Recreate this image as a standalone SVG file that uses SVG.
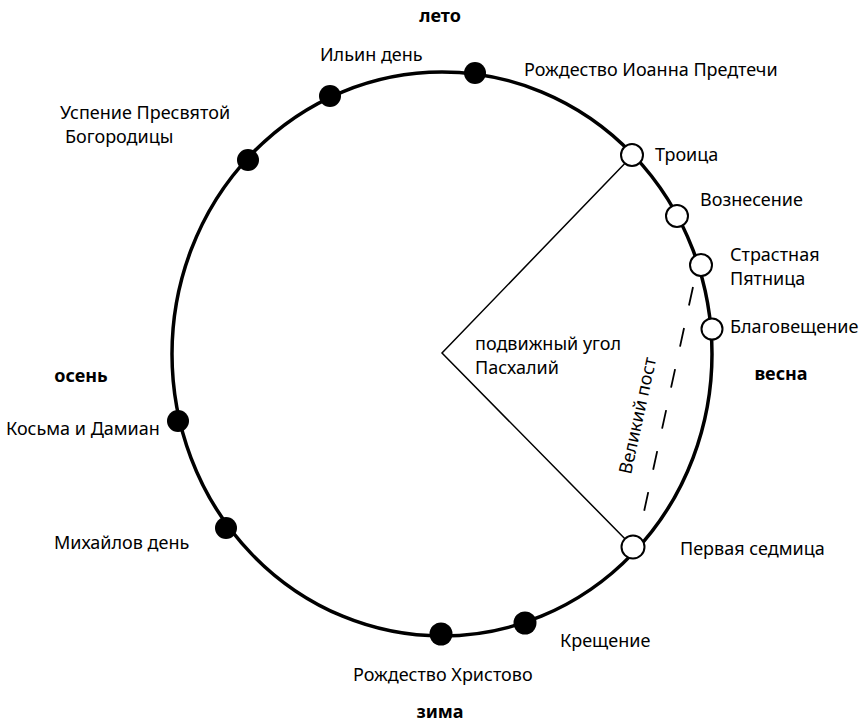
<svg xmlns="http://www.w3.org/2000/svg" width="867" height="727" viewBox="0 0 867 727">
  <style>
    .ring { fill: none; stroke: #000; stroke-width: 3.5; }
    .ray { fill: none; stroke: #000; stroke-width: 1.5; }
    .dash { fill: none; stroke: #000; stroke-width: 1.8; stroke-dasharray: 19 23; }
    .fixed { fill: #000; stroke: none; }
    .movable { fill: #fff; stroke: #000; stroke-width: 2; }
    .lbl { font-family: "Noto Sans", "Open Sans", "Liberation Sans", sans-serif; font-size: 18px; fill: #000; }
    .season { font-family: "Noto Sans", "Open Sans", "Liberation Sans", sans-serif; font-size: 18px; font-weight: bold; fill: #000; }
  </style>
  <rect width="867" height="727" fill="#fff"/>

  <!-- year circle -->
  <ellipse class="ring" cx="442" cy="354" rx="270" ry="282"/>

  <!-- connectors: Paschal angle and Great Lent -->
  <g id="connectors">
    <polyline class="ray" points="632,156 442,353 633,547"/>
    <line class="dash" x1="693" y1="287" x2="640" y2="530"/>
  </g>
  <text class="lbl" transform="translate(631,475) rotate(-77.7)">Великий пост</text>
  <text class="lbl" x="475" y="350">подвижный угол</text>
  <text class="lbl" x="475" y="374">Пасхалий</text>

  <!-- seasons -->
  <text class="season" x="440" y="22" text-anchor="middle">лето</text>
  <text class="season" x="81" y="382" text-anchor="middle">осень</text>
  <text class="season" x="781" y="380" text-anchor="middle">весна</text>
  <text class="season" x="440" y="718" text-anchor="middle">зима</text>

  <!-- fixed feasts -->
  <g id="rozhdestvo-ioanna">
    <circle class="fixed" cx="475" cy="73" r="11"/>
    <text class="lbl" x="524" y="76">Рождество Иоанна Предтечи</text>
  </g>
  <g id="ilin-den">
    <circle class="fixed" cx="330" cy="96" r="11"/>
    <text class="lbl" x="320" y="61">Ильин день</text>
  </g>
  <g id="uspenie">
    <circle class="fixed" cx="248" cy="160" r="11"/>
    <text class="lbl" x="60" y="119">Успение Пресвятой</text>
    <text class="lbl" x="65" y="143">Богородицы</text>
  </g>
  <g id="kosma-i-damian">
    <circle class="fixed" cx="178" cy="421" r="11"/>
    <text class="lbl" x="6" y="435">Косьма и Дамиан</text>
  </g>
  <g id="mikhailov-den">
    <circle class="fixed" cx="226" cy="528" r="11"/>
    <text class="lbl" x="54" y="549">Михайлов день</text>
  </g>
  <g id="rozhdestvo-khristovo">
    <circle class="fixed" cx="441" cy="634" r="11.5"/>
    <text class="lbl" x="353" y="681">Рождество Христово</text>
  </g>
  <g id="kreshchenie">
    <circle class="fixed" cx="525" cy="623" r="11.5"/>
    <text class="lbl" x="560" y="647">Крещение</text>
  </g>

  <!-- movable feasts -->
  <g id="troitsa">
    <circle class="movable" cx="632" cy="155" r="11"/>
    <text class="lbl" x="655" y="161">Троица</text>
  </g>
  <g id="voznesenie">
    <circle class="movable" cx="677" cy="216" r="11"/>
    <text class="lbl" x="700" y="206">Вознесение</text>
  </g>
  <g id="strastnaya-pyatnitsa">
    <circle class="movable" cx="701" cy="265" r="11"/>
    <text class="lbl" x="730" y="261">Страстная</text>
    <text class="lbl" x="730" y="285">Пятница</text>
  </g>
  <g id="blagoveshchenie">
    <circle class="movable" cx="712" cy="329" r="10.5"/>
    <text class="lbl" x="730" y="333">Благовещение</text>
  </g>
  <g id="pervaya-sedmitsa">
    <circle class="movable" cx="633" cy="547" r="11.5"/>
    <text class="lbl" x="680" y="555">Первая седмица</text>
  </g>
</svg>
